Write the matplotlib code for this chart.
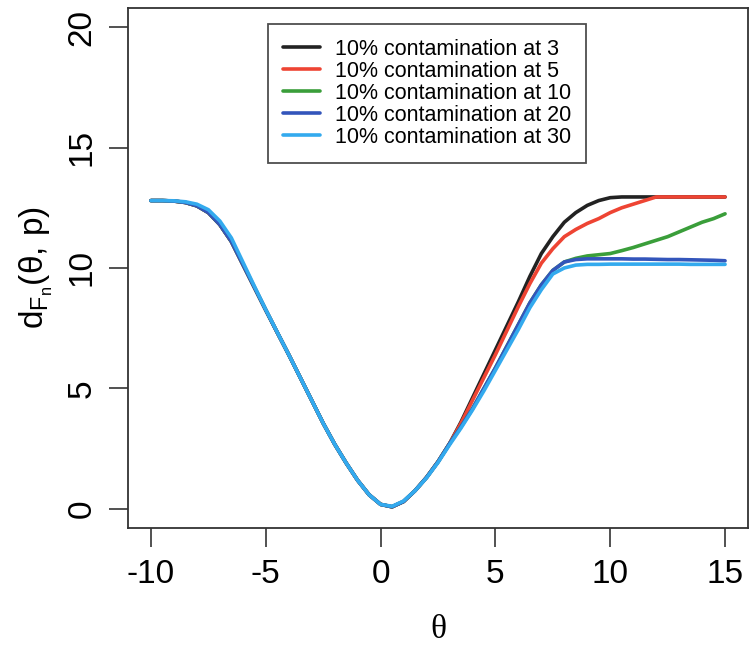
import matplotlib
matplotlib.use("Agg")
import matplotlib.pyplot as plt

plt.rcParams["font.family"] = ["Liberation Sans", "DejaVu Sans"]
plt.rcParams["mathtext.fontset"] = "custom"
plt.rcParams["mathtext.rm"] = "Liberation Sans"
plt.rcParams["mathtext.it"] = "Liberation Sans:italic"
plt.rcParams["axes.unicode_minus"] = False

THETA = [-10, -9.5, -9, -8.5, -8, -7.5, -7, -6.5, -6, -5.5, -5, -4.5, -4, -3.5, -3, -2.5, -2, -1.5, -1, -0.5,
         0, 0.5, 1, 1.5, 2, 2.5, 3, 3.5, 4, 4.5, 5, 5.5, 6, 6.5, 7, 7.5, 8, 8.5, 9, 9.5,
         10, 10.5, 11, 11.5, 12, 12.5, 13, 13.5, 14, 14.5, 15]

# shared left branch (theta -10 .. 3)
LEFT = [12.8, 12.8, 12.78, 12.72, 12.58, 12.3, 11.8, 11.1, 10.15, 9.2, 8.25, 7.32, 6.4, 5.45, 4.5, 3.55, 2.68,
        1.9, 1.18, 0.58, 0.18, 0.08, 0.3, 0.75, 1.3, 1.95, 2.7]
LEFT_LIGHT = [12.8, 12.8, 12.79, 12.75, 12.65, 12.42, 11.95, 11.25, 10.25, 9.25, 8.27, 7.33, 6.4, 5.45, 4.5, 3.55,
              2.68, 1.9, 1.18, 0.58, 0.18, 0.1, 0.32, 0.75, 1.28, 1.92, 2.65]

CONT_3 = LEFT + [3.6, 4.6, 5.6, 6.6, 7.6, 8.6, 9.65, 10.6, 11.3, 11.9, 12.3, 12.6, 12.8,
                 12.92, 12.95, 12.95, 12.95, 12.95, 12.95, 12.95, 12.95, 12.95, 12.95, 12.95]
CONT_5 = LEFT + [3.55, 4.5, 5.45, 6.4, 7.4, 8.4, 9.35, 10.2, 10.8, 11.3, 11.6, 11.85, 12.05,
                 12.3, 12.5, 12.65, 12.8, 12.95, 12.95, 12.95, 12.95, 12.95, 12.95, 12.95]
CONT_10 = LEFT + [3.4, 4.15, 5.0, 5.85, 6.75, 7.65, 8.55, 9.3, 9.9, 10.25, 10.4, 10.5, 10.55,
                  10.6, 10.72, 10.85, 11.0, 11.15, 11.3, 11.5, 11.7, 11.9, 12.05, 12.25]
CONT_20 = LEFT + [3.4, 4.15, 5.0, 5.85, 6.75, 7.65, 8.55, 9.3, 9.9, 10.25, 10.35, 10.38, 10.38,
                  10.38, 10.38, 10.37, 10.37, 10.36, 10.35, 10.35, 10.34, 10.33, 10.32, 10.3]
CONT_30 = LEFT_LIGHT + [3.35, 4.1, 4.9, 5.75, 6.6, 7.45, 8.35, 9.1, 9.75, 10.0, 10.12, 10.15, 10.15,
                        10.16, 10.16, 10.16, 10.16, 10.16, 10.16, 10.16, 10.15, 10.15, 10.15, 10.15]

SERIES = [CONT_3, CONT_5, CONT_10, CONT_20, CONT_30]
LABELS = ["10% contamination at 3", "10% contamination at 5", "10% contamination at 10",
          "10% contamination at 20", "10% contamination at 30"]
COLORS = ["#222222", "#ee4433", "#3a9e3a", "#3355bb", "#33aaee"]

fig = plt.figure(figsize=(7.49, 6.48), dpi=100, facecolor="white")
ax = fig.add_axes([0.1709, 0.1852, 0.8278, 0.8025])

for ys, label, color in zip(SERIES, LABELS, COLORS):
    ax.plot(THETA, ys, color=color, lw=2.6, label=label, solid_capstyle="round")

ax.set_xlim(-11, 16)
ax.set_ylim(-0.8, 20.8)
ax.set_xticks([-10, -5, 0, 5, 10, 15])
ax.set_yticks([0, 5, 10, 15, 20])
ax.tick_params(axis="both", direction="out", length=14, width=1.2, labelsize=24, color="#333333")
ax.tick_params(axis="x", pad=8)
ax.tick_params(axis="y", pad=8)
for lbl in ax.get_yticklabels():
    lbl.set_rotation(90)
    lbl.set_va("center")
for sp in ax.spines.values():
    sp.set_linewidth(1.3)
    sp.set_color("#333333")

ax.set_xlabel("θ", fontsize=24, family=["Liberation Serif", "DejaVu Serif"], labelpad=18)
ax.set_ylabel(r"$\mathrm{d_{F_n}(\theta,\,p)}$", fontsize=24, labelpad=8)

leg = ax.legend(loc="upper left", bbox_to_anchor=(0.226, 0.97), fontsize=15.5, frameon=True, fancybox=False,
                handlelength=1.7, handletextpad=0.7, labelspacing=0.05, borderpad=0.7, borderaxespad=0)
leg.get_frame().set_edgecolor("#222222")
leg.get_frame().set_linewidth(1.3)

fig.savefig("out.png", dpi=100, facecolor="white")
